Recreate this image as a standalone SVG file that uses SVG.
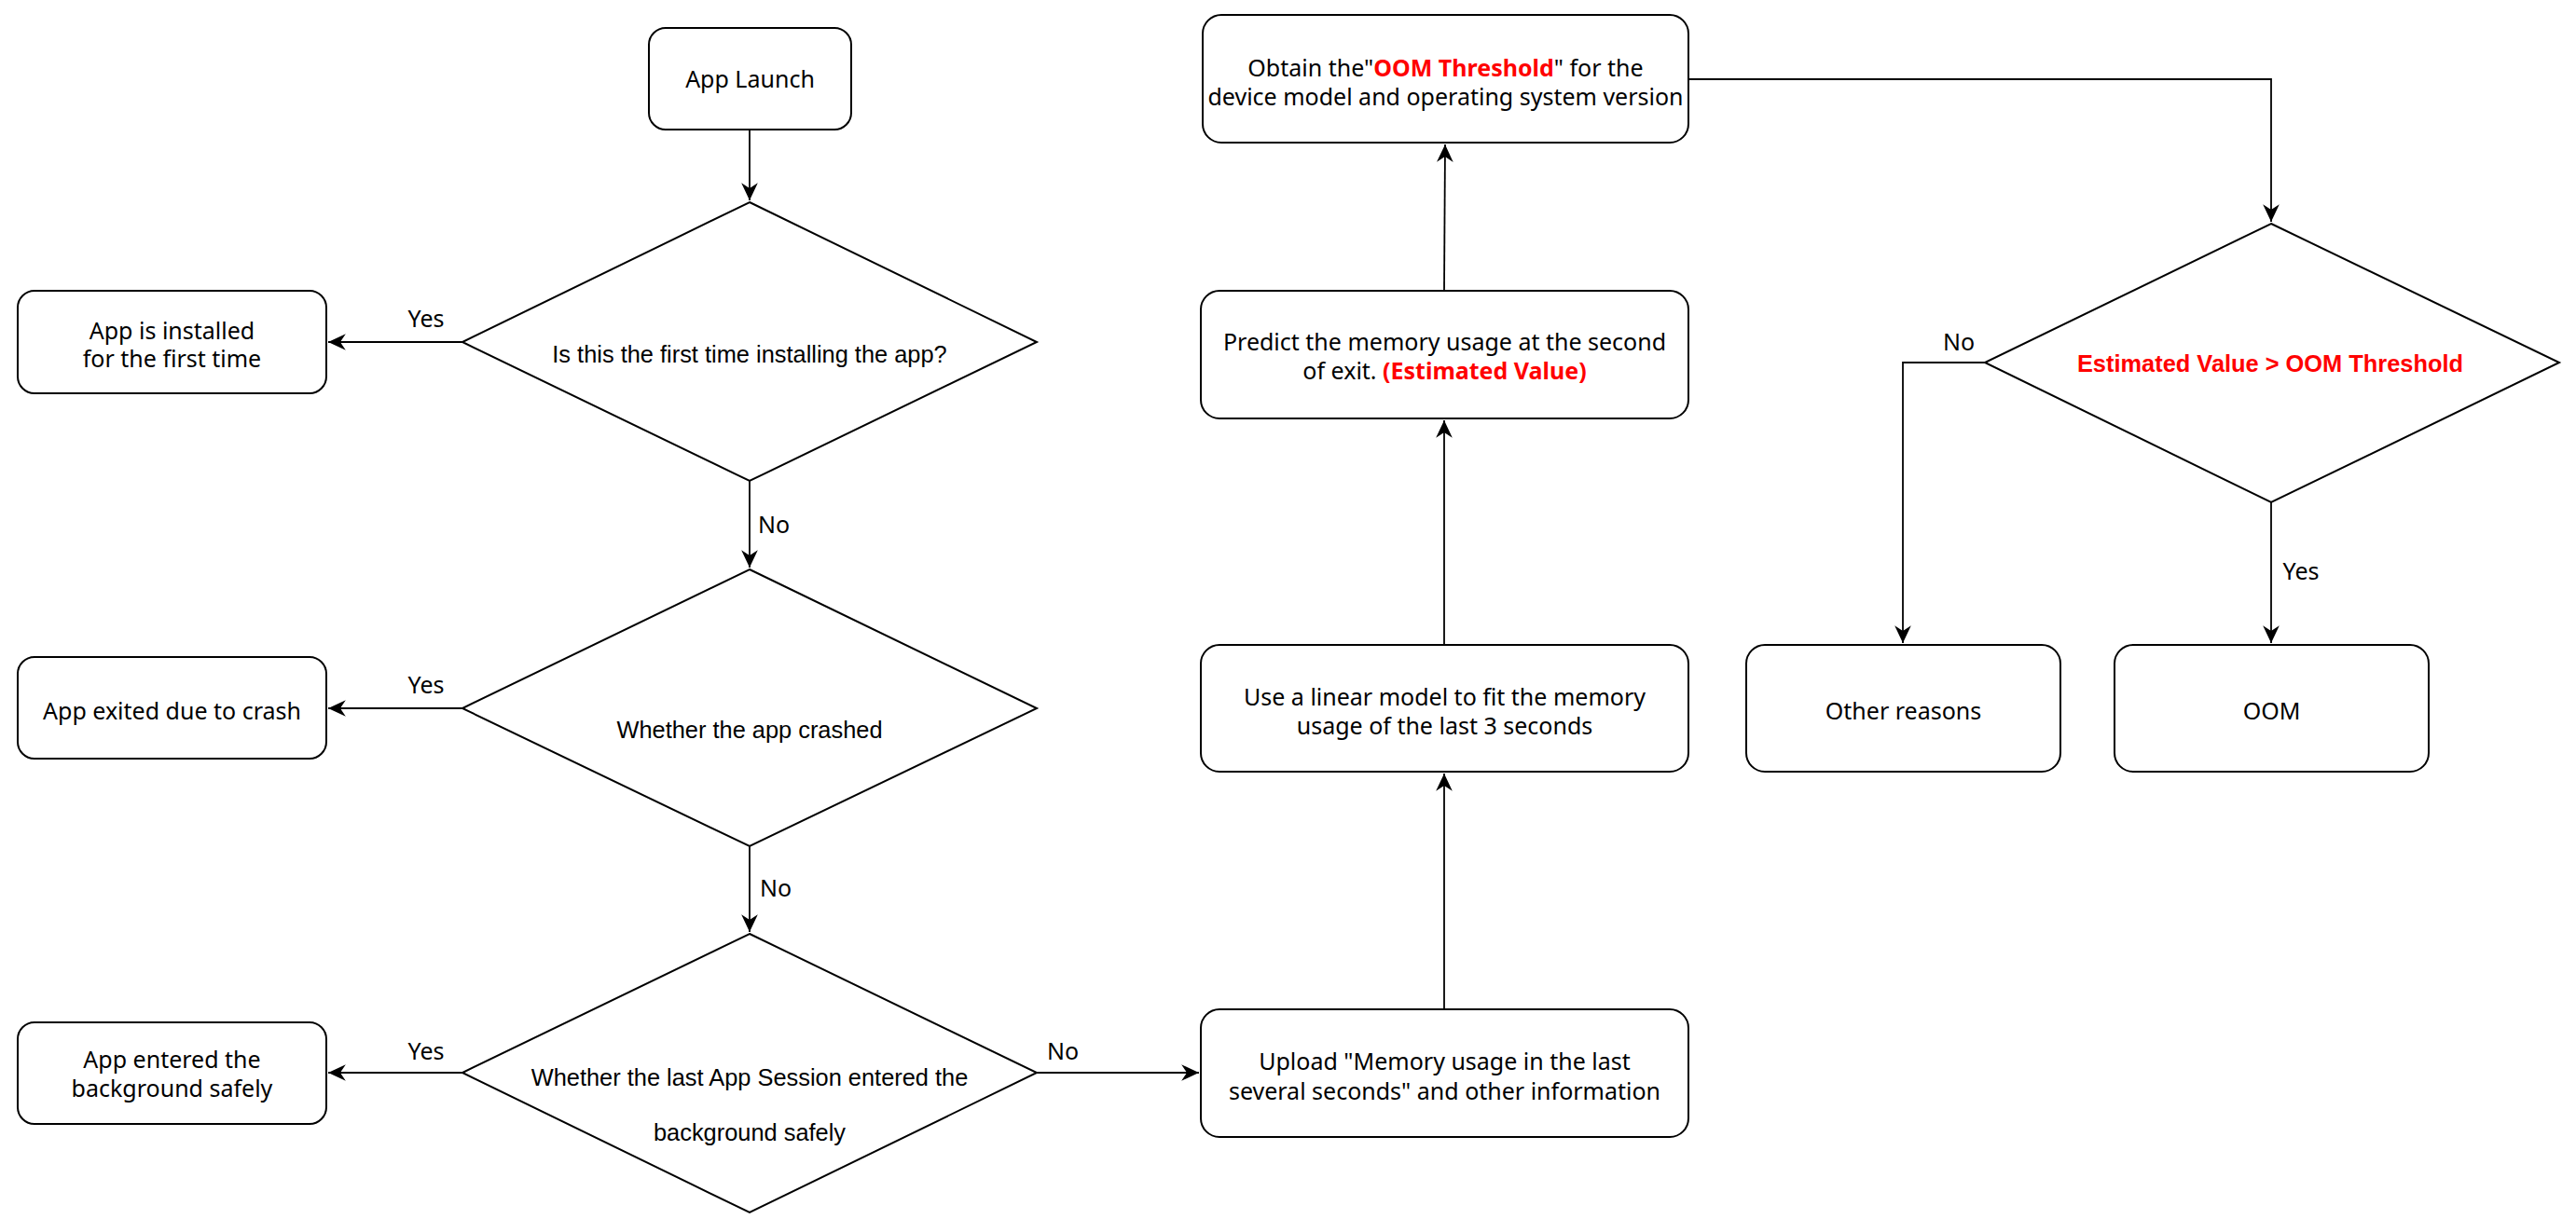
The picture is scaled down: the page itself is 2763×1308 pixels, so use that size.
<svg xmlns="http://www.w3.org/2000/svg" width="2763" height="1308" viewBox="0 0 2763 1308">
<style>
.box{fill:#fff;stroke:#000;stroke-width:2}
.dia{fill:#fff;stroke:#000;stroke-width:2}
.t{font-family:"Noto Sans","Open Sans",sans-serif;font-size:25px;fill:#000;text-anchor:middle}
.ta{font-family:"Liberation Sans",Arial,sans-serif;font-size:25.4px;fill:#000;text-anchor:middle}
.red{fill:#ff0000;font-weight:bold}
.lbl{font-family:"Noto Sans","Open Sans",sans-serif;font-size:25px;fill:#000;text-anchor:middle}
.c{fill:none;stroke:#000;stroke-width:1.8}
</style>
<defs>
<marker id="arr" markerUnits="userSpaceOnUse" markerWidth="20" markerHeight="20" viewBox="-16 -8 17 16" refX="0" refY="0" orient="auto">
<path d="M0,0 L-16,-7.5 L-11,0 L-16,7.5 Z" fill="#000"/>
</marker>
</defs>
<rect width="2763" height="1308" fill="#fff"/>
<g id="connectors">
<path class="c" d="M804,139 L804,215" marker-end="url(#arr)"/>
<path class="c" d="M496,367 L352,367" marker-end="url(#arr)"/>
<path class="c" d="M804,516 L804,609" marker-end="url(#arr)"/>
<path class="c" d="M496,760 L352,760" marker-end="url(#arr)"/>
<path class="c" d="M804,908 L804,1000" marker-end="url(#arr)"/>
<path class="c" d="M496,1151 L352,1151" marker-end="url(#arr)"/>
<path class="c" d="M1112,1151 L1286,1151" marker-end="url(#arr)"/>
<path class="c" d="M1549,1083 L1549,830" marker-end="url(#arr)"/>
<path class="c" d="M1549,692 L1549,451" marker-end="url(#arr)"/>
<path class="c" d="M1549,312 L1550,155" marker-end="url(#arr)"/>
<path class="c" d="M1811,85 L2436,85 L2436,238" marker-end="url(#arr)"/>
<path class="c" d="M2129,389 L2041,389 L2041,690" marker-end="url(#arr)"/>
<path class="c" d="M2436,539 L2436,690" marker-end="url(#arr)"/>
<text class="lbl" x="457" y="351">Yes</text>
<text class="lbl" x="830" y="572">No</text>
<text class="lbl" x="457" y="744">Yes</text>
<text class="lbl" x="832" y="962">No</text>
<text class="lbl" x="457" y="1137">Yes</text>
<text class="lbl" x="1140" y="1137">No</text>
<text class="lbl" x="2101" y="376">No</text>
<text class="lbl" x="2468" y="622">Yes</text>
</g>
<g id="app-launch">
<rect class="box" x="696" y="30" width="217" height="109" rx="18"/>
<text class="t" x="804.5" y="94">App Launch</text>
</g>
<g id="first-install">
<polygon class="dia" points="804,217 1112,367 804,516 496,367"/>
<text class="ta" x="804" y="389">Is this the first time installing the app?</text>
</g>
<g id="installed-first">
<rect class="box" x="19" y="312" width="331" height="110" rx="18"/>
<text class="t" x="184.5" y="364">App is installed</text>
<text class="t" x="184.5" y="394">for the first time</text>
</g>
<g id="crashed">
<polygon class="dia" points="804,611 1112,760 804,908 496,760"/>
<text class="ta" x="804" y="792">Whether the app crashed</text>
</g>
<g id="exited-crash">
<rect class="box" x="19" y="705" width="331" height="109" rx="18"/>
<text class="t" x="184.5" y="772">App exited due to crash</text>
</g>
<g id="background">
<polygon class="dia" points="804,1002 1112,1151 804,1301 496,1151"/>
<text class="ta" x="804" y="1165">Whether the last App Session entered the</text>
<text class="ta" x="804" y="1224">background safely</text>
</g>
<g id="entered-background">
<rect class="box" x="19" y="1097" width="331" height="109" rx="18"/>
<text class="t" x="184.5" y="1146">App entered the</text>
<text class="t" x="184.5" y="1177">background safely</text>
</g>
<g id="upload">
<rect class="box" x="1288" y="1083" width="523" height="137" rx="20"/>
<text class="t" x="1549.5" y="1148">Upload "Memory usage in the last</text>
<text class="t" x="1549.5" y="1180">several seconds" and other information</text>
</g>
<g id="linear-model">
<rect class="box" x="1288" y="692" width="523" height="136" rx="20"/>
<text class="t" x="1549.5" y="757">Use a linear model to fit the memory</text>
<text class="t" x="1549.5" y="788">usage of the last 3 seconds</text>
</g>
<g id="predict">
<rect class="box" x="1288" y="312" width="523" height="137" rx="20"/>
<text class="t" x="1549.5" y="376">Predict the memory usage at the second</text>
<text class="t" x="1549.5" y="407">of exit. <tspan class="red">(Estimated Value)</tspan></text>
</g>
<g id="obtain-threshold">
<rect class="box" x="1290" y="16" width="521" height="137" rx="20"/>
<text class="t" x="1550.5" y="82">Obtain the"<tspan class="red">OOM Threshold</tspan>" for the</text>
<text class="t" x="1550.5" y="113">device model and operating system version</text>
</g>
<g id="compare">
<polygon class="dia" points="2436,240 2745,389 2436,539 2129,389"/>
<text class="ta red" x="2435" y="399">Estimated Value &gt; OOM Threshold</text>
</g>
<g id="other-reasons">
<rect class="box" x="1873" y="692" width="337" height="136" rx="20"/>
<text class="t" x="2041.5" y="772">Other reasons</text>
</g>
<g id="oom">
<rect class="box" x="2268" y="692" width="337" height="136" rx="20"/>
<text class="t" x="2436.5" y="772">OOM</text>
</g>
</svg>
